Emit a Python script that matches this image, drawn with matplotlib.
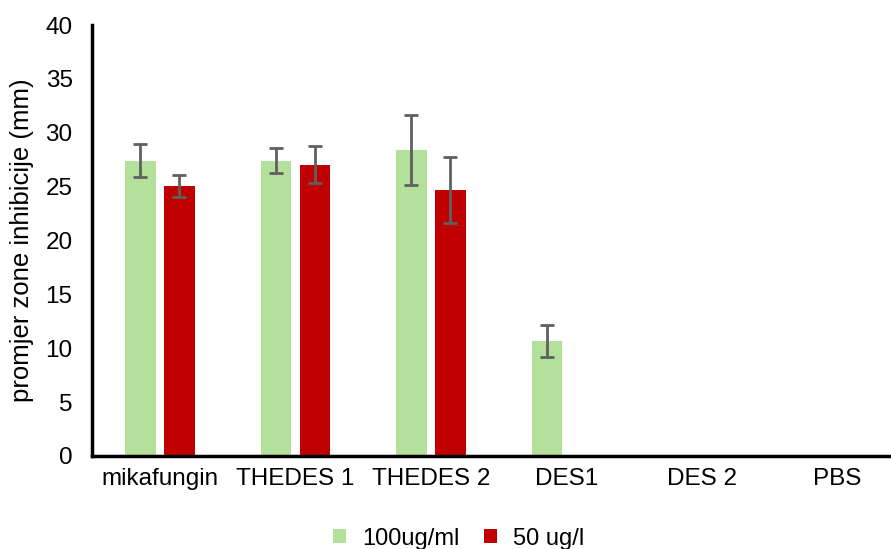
import numpy as np
import matplotlib.pyplot as plt

plt.rcParams['font.family'] = ['Liberation Sans', 'DejaVu Sans']

categories = ['mikafungin', 'THEDES 1', 'THEDES 2', 'DES1', 'DES 2', 'PBS']
high_dose = [27.4, 27.4, 28.4, 10.7, 0, 0]
high_err = [1.55, 1.15, 3.25, 1.5, 0, 0]
low_dose = [25.05, 27.05, 24.7, 0, 0, 0]
low_err = [1.0, 1.75, 3.05, 0, 0, 0]
series_names = ['100ug/ml', '50 ug/l']

x = np.arange(len(categories))
w = 0.225
off = 0.144

fig = plt.figure(figsize=(8.91, 5.49), dpi=100)
ax = fig.add_axes([0.1033, 0.1694, 0.9125, 0.785])

err_style = dict(ecolor='#606060', elinewidth=2, capsize=5, capthick=2)
ax.bar(x - off, high_dose, w, color='#b3e09a', label=series_names[0], zorder=2)
ax.bar(x + off, low_dose, w, color='#c00000', label=series_names[1], zorder=2)
hx = [xi - off for xi, e in zip(x, high_err) if e > 0]
ax.errorbar(hx, [v for v, e in zip(high_dose, high_err) if e > 0],
            yerr=[e for e in high_err if e > 0], fmt='none', zorder=3, **err_style)
lx = [xi + off for xi, e in zip(x, low_err) if e > 0]
ax.errorbar(lx, [v for v, e in zip(low_dose, low_err) if e > 0],
            yerr=[e for e in low_err if e > 0], fmt='none', zorder=3, **err_style)

ax.set_xlim(-0.5, len(categories) - 0.5)
ax.set_ylim(0, 40)
ax.set_yticks(np.arange(0, 41, 5))
ax.set_xticks(x)
ax.set_xticklabels(categories)
ax.tick_params(axis='y', length=0, pad=14, labelsize=17.5)
ax.tick_params(axis='x', length=0, pad=9, labelsize=17.5)
ax.set_ylabel('promjer zone inhibicije (mm)', fontsize=18.5, labelpad=8)

for s in ['top', 'right']:
    ax.spines[s].set_visible(False)
ax.spines['left'].set_linewidth(2.5)
ax.spines['bottom'].set_linewidth(2.5)

fig.legend(loc='lower center', bbox_to_anchor=(0.515, -0.04), ncol=2, frameon=False,
           fontsize=17, handlelength=0.55, handleheight=0.55, columnspacing=1.0,
           handletextpad=0.7)

fig.savefig('out.png', dpi=100)
